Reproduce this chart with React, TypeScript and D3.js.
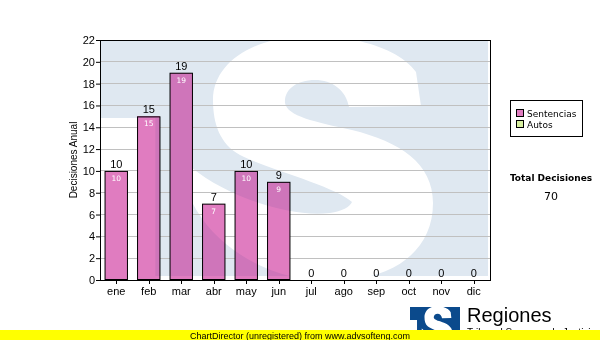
import React from "react";
import * as d3 from "d3";

const months = ["ene", "feb", "mar", "abr", "may", "jun", "jul", "ago", "sep", "oct", "nov", "dic"];
const sentencias = [10, 15, 19, 7, 10, 9, 0, 0, 0, 0, 0, 0];
const autos = [0, 0, 0, 0, 0, 0, 0, 0, 0, 0, 0, 0];
const yTicks = [0, 2, 4, 6, 8, 10, 12, 14, 16, 18, 20, 22];
const legendItems = ["Sentencias", "Autos"];
const legendColors = ["#e07cc0", "#d8f0a0"];
const totalLabel = "Total Decisiones";
const totalValue = d3.sum(sentencias) + d3.sum(autos);

const W = 600;
const H = 340;
const plot = { left: 100, top: 40, right: 490, bottom: 280 };

// watermark logo outline (drawn in page space of the plot background)
const S_PATH =
  "M310,36 C360,36 400,50 416,72 L421,106 L349,107 C346,90 332,80 315,80 C296,80 284,90 285,103 " +
  "C287,116 315,122 352,130 C400,142 433,163 433,203 C433,252 392,281 330,281 C270,281 215,248 192,202 " +
  "L192,168 C228,197 290,218 330,213 C342,211 350,207 352,202 C335,186 270,170 240,155 " +
  "C220,144 213,124 213,100 C213,62 255,36 310,36 Z";

export default function App() {
  const x = d3
    .scaleBand<string>()
    .domain(months)
    .range([plot.left, plot.right])
    .paddingInner(0.28)
    .paddingOuter(0.14);
  const y = d3.scaleLinear().domain([0, 22]).range([plot.bottom, plot.top]);
  const totals = sentencias.map((v, i) => v + autos[i]);

  const pw = plot.right - plot.left;
  const ph = plot.bottom - plot.top;
  const wmL = plot.left + 1;
  const wmR = plot.right - 2;
  const wmT = plot.top + 1;
  const wmB = plot.bottom - 4;
  const notchR = plot.left + pw * 0.142;
  const notchT = plot.top + ph * 0.325;
  const boxPath = `M${wmL},${wmT}H${wmR}V${wmB}H${notchR}V${notchT}H${wmL}Z`;

  const logoX = 410;
  const logoY = 307;
  const logoSx = 50 / (wmR - wmL);
  const logoSy = 40 / (wmB - wmT);

  const bars = sentencias
    .map((v, i) => ({ v, m: months[i] }))
    .filter((d) => d.v > 0);

  return (
    <div style={{ position: "absolute", left: 0, top: 0 }}>
      <svg width={W} height={H} style={{ display: "block", fontFamily: "'Liberation Sans', Arial, sans-serif" }}>
        <defs>
          <clipPath id="plotClip">
            <rect x={plot.left} y={plot.top} width={pw} height={ph} />
          </clipPath>
          <clipPath id="barsClip">
            {bars.map((d) => (
              <rect key={"c" + d.m} x={x(d.m)!} y={y(d.v)} width={x.bandwidth()} height={y(0) - y(d.v)} />
            ))}
          </clipPath>
          <clipPath id="logoClip">
            <rect x={logoX} y={logoY} width={50} height={40} />
          </clipPath>
        </defs>
        <rect x={0} y={0} width={W} height={H} fill="#ffffff" />

        {/* watermark background */}
        <g clipPath="url(#plotClip)">
          <path d={boxPath} fill="#dfe8f1" />
          <path d={S_PATH} fill="#ffffff" />
        </g>

        {/* grid */}
        {yTicks.map((t) => (
          <line key={"g" + t} x1={plot.left} x2={plot.right} y1={y(t)} y2={y(t)} stroke="#c0c0c0" strokeWidth={1} shapeRendering="crispEdges" />
        ))}

        {/* bars */}
        {bars.map((d) => (
          <rect
            key={"b" + d.m}
            x={x(d.m)!}
            y={y(d.v)}
            width={x.bandwidth()}
            height={y(0) - y(d.v)}
            fill={legendColors[0]}
            shapeRendering="crispEdges"
          />
        ))}
        {/* watermark seen through bars */}
        <g clipPath="url(#barsClip)" style={{ mixBlendMode: "multiply" }} opacity={0.6}>
          <path d={boxPath} fill="#dfe8f1" />
          <path d={S_PATH} fill="#ffffff" />
        </g>
        {bars.map((d) => (
          <rect
            key={"bo" + d.m}
            x={x(d.m)! + 0.5}
            y={y(d.v) + 0.5}
            width={x.bandwidth() - 1}
            height={y(0) - y(d.v) - 1}
            fill="none"
            stroke="#000"
            strokeWidth={1}
          />
        ))}

        {/* value labels */}
        {totals.map((v, i) => (
          <text key={"t" + i} x={x(months[i])! + x.bandwidth() / 2} y={y(v) - 3} textAnchor="middle" fontSize={11} fill="#000">
            {v}
          </text>
        ))}
        {bars.map((d) => (
          <text
            key={"in" + d.m}
            x={x(d.m)! + x.bandwidth() / 2}
            y={y(d.v) + 10}
            textAnchor="middle"
            fontSize={7.5}
            fontFamily="'DejaVu Sans', Verdana, sans-serif"
            fill="#ffffff"
          >
            {d.v}
          </text>
        ))}

        {/* frame */}
        <rect x={plot.left + 0.5} y={plot.top + 0.5} width={pw} height={ph} fill="none" stroke="#000" strokeWidth={1} />

        {/* y axis */}
        {yTicks.map((t) => (
          <g key={"y" + t}>
            <line x1={plot.left - 4} x2={plot.left} y1={y(t) + 0.5} y2={y(t) + 0.5} stroke="#000" />
            <text x={plot.left - 5} y={y(t) + 4} textAnchor="end" fontSize={11} fill="#000">
              {t}
            </text>
          </g>
        ))}
        <text transform={`translate(76.5,${(plot.top + plot.bottom) / 2}) rotate(-90)`} textAnchor="middle" fontSize={10} fill="#000">
          Decisiones Anual
        </text>

        {/* x axis */}
        {months.map((m) => (
          <g key={"x" + m}>
            <line
              x1={Math.round(x(m)! + x.bandwidth() / 2) + 0.5}
              x2={Math.round(x(m)! + x.bandwidth() / 2) + 0.5}
              y1={plot.bottom}
              y2={plot.bottom + 4}
              stroke="#000"
            />
            <text x={x(m)! + x.bandwidth() / 2} y={plot.bottom + 15} textAnchor="middle" fontSize={11} fill="#000">
              {m}
            </text>
          </g>
        ))}

        {/* legend */}
        <rect x={510.5} y={100.5} width={72} height={36} fill="#fff" stroke="#000" strokeWidth={1} />
        {legendItems.map((name, i) => (
          <g key={"l" + i}>
            <rect x={516.5} y={109.5 + i * 11} width={7} height={7} fill={legendColors[i]} stroke="#000" strokeWidth={1} />
            <text x={527} y={117 + i * 11} fontSize={9} fontFamily="'DejaVu Sans', Verdana, sans-serif" fill="#000">
              {name}
            </text>
          </g>
        ))}

        {/* total */}
        <text x={551} y={181} textAnchor="middle" fontSize={9} fontWeight="bold" fontFamily="'DejaVu Sans', Verdana, sans-serif" fill="#000">
          {totalLabel}
        </text>
        <text x={551} y={200} textAnchor="middle" fontSize={11} fontFamily="'DejaVu Sans', Verdana, sans-serif" fill="#000">
          {totalValue}
        </text>

        {/* logo */}
        <g clipPath="url(#logoClip)">
          <g transform={`translate(${logoX},${logoY}) scale(${logoSx},${logoSy}) translate(${-wmL},${-wmT})`}>
            <path d={boxPath} fill="#0b4a8c" />
            <path d={S_PATH} fill="#ffffff" />
          </g>
        </g>
        <text x={467} y={322} fontSize={20} fill="#000">
          Regiones
        </text>
        <text x={467} y={336} fontSize={10} fill="#000">
          Tribunal Supremo de Justicia
        </text>

        {/* footer */}
        <rect x={0} y={330} width={W} height={10} fill="#ffff00" />
        <text x={300} y={338.5} textAnchor="middle" fontSize={9} fill="#000">
          ChartDirector (unregistered) from www.advsofteng.com
        </text>
      </svg>
    </div>
  );
}
